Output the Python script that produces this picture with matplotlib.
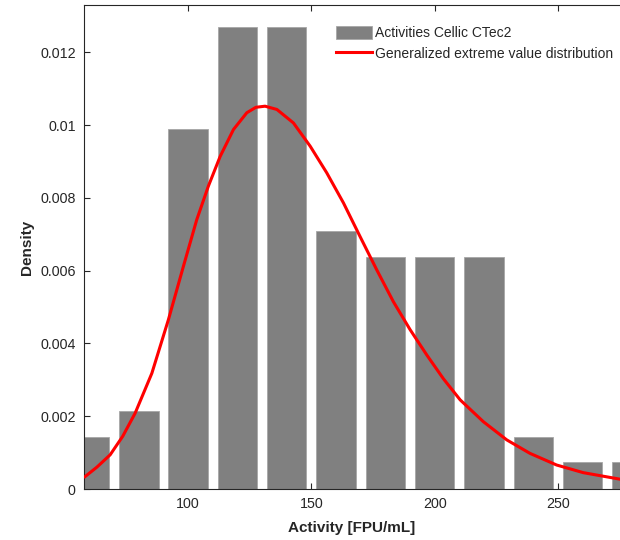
import matplotlib
matplotlib.use("Agg")
import matplotlib.pyplot as plt

# histogram bins (centres) and density heights
bin_centers = [60, 80, 100, 120, 140, 160, 180, 200, 220, 240, 260, 280]
bin_density = [0.00144, 0.00214, 0.00990, 0.01269, 0.01269, 0.00708,
               0.00637, 0.00637, 0.00637, 0.00144, 0.00074, 0.00074]
bar_width = 16

# fitted GEV curve
gev_x = [58.2, 63.0, 68.4, 73.5, 78.5, 85.3, 92.0, 98.1, 103.5, 108.2, 113.0,
         118.4, 123.8, 127.5, 131.2, 136.0, 142.7, 149.5, 156.2, 163.0, 169.7,
         176.5, 183.2, 190.0, 196.8, 203.5, 210.3, 219.7, 229.2, 238.6, 249.4,
         260.2, 275.1]
gev_y = [0.00034, 0.00060, 0.00094, 0.00145, 0.00208, 0.00318, 0.00465,
         0.00612, 0.00740, 0.00832, 0.00914, 0.00988, 0.01034, 0.01049,
         0.01052, 0.01043, 0.01006, 0.00942, 0.00869, 0.00786, 0.00694,
         0.00602, 0.00515, 0.00438, 0.00368, 0.00303, 0.00245, 0.00185,
         0.00135, 0.00098, 0.00066, 0.00045, 0.00027]

x_ticks = [100, 150, 200, 250]
y_ticks = [0, 0.002, 0.004, 0.006, 0.008, 0.01, 0.012]
y_tick_labels = ["0", "0.002", "0.004", "0.006", "0.008", "0.01", "0.012"]

plt.rcParams["font.family"] = ["Liberation Sans", "DejaVu Sans"]
text_color = "#262626"

figure = plt.figure(figsize=(6.2, 5.4), dpi=100)
axis = figure.add_axes([0.1355, 0.0944, 0.8645, 0.8963])

bars = axis.bar(bin_centers, bin_density, width=bar_width, color="#808080",
                edgecolor="#a6a6a6", linewidth=0.6,
                label="Activities Cellic CTec2", zorder=2)
(curve,) = axis.plot(gev_x, gev_y, color="red", linewidth=2.2,
                     label="Generalized extreme value distribution", zorder=3)

axis.set_xlim(57.8, 275.1)
axis.set_ylim(0, 0.0133)
axis.set_xticks(x_ticks)
axis.set_yticks(y_ticks)
axis.set_yticklabels(y_tick_labels)

axis.tick_params(direction="in", length=4, width=0.8, colors=text_color,
                 labelsize=10.3, top=True, right=False, pad=6)
for name in ("left", "bottom", "top"):
    axis.spines[name].set_color(text_color)
    axis.spines[name].set_linewidth(0.8)
axis.spines["right"].set_visible(False)

axis.set_xlabel("Activity [FPU/mL]", fontsize=11, fontweight="bold",
                color=text_color, labelpad=7)
axis.set_ylabel("Density", fontsize=11, fontweight="bold",
                color=text_color, labelpad=4)

legend = axis.legend(handles=[bars, curve], loc="upper left",
                     bbox_to_anchor=(0.542, 0.951),
                     bbox_transform=figure.transFigure, frameon=False,
                     fontsize=10, handlelength=2.6, handleheight=1.0,
                     handletextpad=0.2, labelspacing=0.45, borderpad=0,
                     borderaxespad=0)
for text in legend.get_texts():
    text.set_color(text_color)

figure.savefig("out.png", dpi=100)
plt.close(figure)
